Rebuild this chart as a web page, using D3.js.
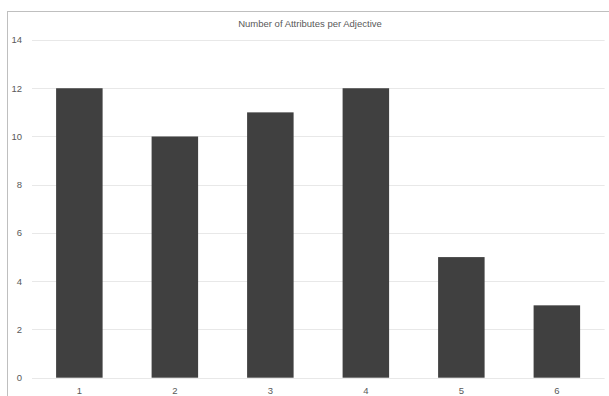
<!DOCTYPE html>
<html><head><meta charset="utf-8">
<script src="https://cdn.jsdelivr.net/npm/d3@7"></script>
<style>body{margin:0;background:#fff}svg{display:block}</style>
</head><body>
<script>
const categories = ["1","2","3","4","5","6"];
const values = [12,10,11,12,5,3];
const yTicks = [0,2,4,6,8,10,12,14];
const title = "Number of Attributes per Adjective";

const W = 609, H = 396;
const svg = d3.select("body").append("svg").attr("width", W).attr("height", H);

// chart area border
svg.append("rect").attr("x", 7.5).attr("y", 11.5).attr("width", 620).attr("height", 400)
  .attr("fill", "none").attr("stroke", "#bfbfbf").attr("stroke-width", 1);

const x = d3.scaleBand().domain(categories).range([31.6, 604.6]).paddingInner(0.513).paddingOuter(0.2565);
const y = d3.scaleLinear().domain([0, 14]).range([377.7, 40]);

// gridlines
svg.append("g").selectAll("line").data(yTicks).join("line")
  .attr("x1", 32).attr("x2", 604.6)
  .attr("y1", d => Math.round(y(d)) + 0.5).attr("y2", d => Math.round(y(d)) + 0.5)
  .attr("stroke", "#e8e8e8").attr("stroke-width", 1);

// y labels
svg.append("g").selectAll("text").data(yTicks).join("text")
  .attr("x", 22).attr("y", d => y(d)).attr("dy", "0.35em")
  .attr("text-anchor", "end").attr("font-family", "Liberation Sans, Arial, sans-serif")
  .attr("font-size", 9.5).attr("fill", "#595959").text(d => d);

// bars
svg.append("g").selectAll("rect").data(values).join("rect")
  .attr("x", (d, i) => x(categories[i])).attr("width", x.bandwidth())
  .attr("y", d => y(d)).attr("height", d => y(0) - y(d))
  .attr("fill", "#404040");

// x labels
svg.append("g").selectAll("text").data(categories).join("text")
  .attr("x", d => x(d) + x.bandwidth() / 2).attr("y", 391).attr("dy", "0.35em")
  .attr("text-anchor", "middle").attr("font-family", "Liberation Sans, Arial, sans-serif")
  .attr("font-size", 9.5).attr("fill", "#595959").text(d => d);

// title
svg.append("text").attr("x", 310).attr("y", 24).attr("dy", "0.35em")
  .attr("text-anchor", "middle").attr("font-family", "Liberation Sans, Arial, sans-serif")
  .attr("font-size", 9.5).attr("fill", "#595959").text(title);
</script>
</body></html>
